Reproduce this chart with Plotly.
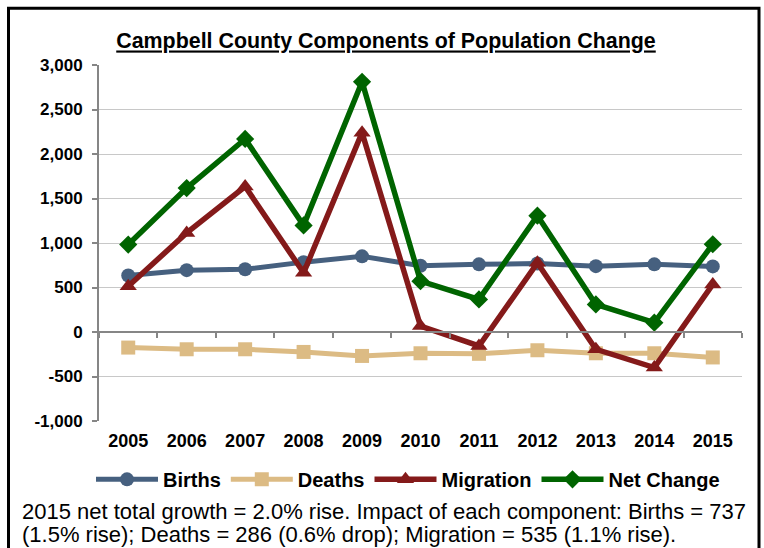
import plotly.graph_objects as go

years = [2005, 2006, 2007, 2008, 2009, 2010, 2011, 2012, 2013, 2014, 2015]
births = [635, 695, 705, 785, 850, 745, 760, 770, 740, 760, 737]
deaths = [-175, -194, -194, -224, -269, -239, -245, -205, -239, -239, -286]
migration = [515, 1113, 1635, 665, 2240, 67, -157, 777, -194, -399, 535]
net_change = [982, 1617, 2169, 1198, 2811, 571, 366, 1307, 310, 105, 986]
y_ticks = [-1000, -500, 0, 500, 1000, 1500, 2000, 2500, 3000]

title_text = "Campbell County Components of Population Change"
footnote_lines = [
    "2015 net total growth = 2.0% rise. Impact of each component: Births = 737",
    "(1.5% rise); Deaths = 286 (0.6% drop); Migration = 535 (1.1% rise).",
]

W, H = 764, 548
L, R, T, B = 99, 22, 64.5, 126.5
pw, ph = W - L - R, H - T - B

def px_x(x):
    return (x - L) / pw

def px_y(y):
    return (H - B - y) / ph

FONT = "Liberation Sans, Arial, sans-serif"

series = [
    ("Births", births, "#46607f", "circle", 14, 5),
    ("Deaths", deaths, "#dcbb84", "square", 14, 5),
    ("Migration", migration, "#841a1a", "triangle-up", 15, 5.5),
    ("Net Change", net_change, "#006400", "diamond", 14, 5.5),
]

fig = go.Figure()
for name, vals, color, sym, size, lw in series:
    fig.add_trace(go.Scatter(
        x=years, y=vals, name=name, mode="lines+markers",
        line=dict(color=color, width=lw),
        marker=dict(symbol=sym, size=size, color=color, line=dict(width=0)),
    ))

# invisible helper trace so the zero-line category axis renders
fig.add_trace(go.Scatter(x=years, y=births, xaxis="x2", yaxis="y",
                         mode="lines", line=dict(width=0), opacity=0,
                         showlegend=False, hoverinfo="skip"))

xr = [years[0] - 0.5, years[-1] + 0.5]
fig.update_layout(
    width=W, height=H,
    margin=dict(l=L, r=R, t=T, b=B, pad=0, autoexpand=False),
    paper_bgcolor="white", plot_bgcolor="white",
    font=dict(family=FONT, color="black"),
    title=dict(text="<b><u>" + title_text + "</u></b>",
               x=386 / W, xref="container", xanchor="center",
               y=1 - 41 / H, yref="container", yanchor="middle",
               font=dict(size=21.4, family=FONT, color="black")),
    xaxis=dict(range=xr, tickvals=years, ticktext=[str(y) for y in years],
               showgrid=False, showline=False, zeroline=False, ticks="",
               tickfont=dict(size=18, family=FONT, color="black", weight="bold"),
               ticklabelstandoff=7),
    xaxis2=dict(range=xr, overlaying="x", anchor="free",
                position=(0 - y_ticks[0]) / (y_ticks[-1] - y_ticks[0]),
                tickvals=[y - 0.5 for y in years] + [years[-1] + 0.5],
                showticklabels=False, showgrid=False, zeroline=False,
                showline=True, linecolor="#868686", linewidth=2,
                ticks="outside", ticklen=5, tickwidth=1.5, tickcolor="#868686"),
    yaxis=dict(range=[y_ticks[0], y_ticks[-1]], tickvals=y_ticks,
               ticktext=[f"{v:,}" for v in y_ticks],
               showgrid=True, gridcolor="#c8c8c8", gridwidth=1.2,
               zeroline=False, showline=True, linecolor="#868686", linewidth=2,
               ticks="outside", ticklen=5, tickwidth=1.5, tickcolor="#868686",
               tickfont=dict(size=17, family=FONT, color="black", weight="bold"),
               ticklabelstandoff=6),
    legend=dict(orientation="h", x=px_x(408), xanchor="center",
                y=px_y(480), yanchor="middle",
                font=dict(size=20, family=FONT, color="black", weight="bold"),
                itemwidth=62, tracegroupgap=0, bgcolor="rgba(0,0,0,0)"),
    showlegend=True,
)

for i, line in enumerate(footnote_lines):
    fig.add_annotation(text=line, xref="paper", yref="paper",
                       x=px_x(20), y=px_y(512 + 23 * i), xanchor="left",
                       yanchor="middle", align="left", showarrow=False,
                       font=dict(size=22, family=FONT, color="black"))

fig.add_shape(type="rect", xref="paper", yref="paper",
              x0=px_x(8.5), x1=px_x(759), y0=px_y(600), y1=px_y(7.5),
              line=dict(color="black", width=3), fillcolor="rgba(0,0,0,0)",
              layer="above")

fig.write_html("out.html", config={"displayModeBar": False},
               post_script="document.body.style.margin='0';document.body.style.overflow='hidden';")
